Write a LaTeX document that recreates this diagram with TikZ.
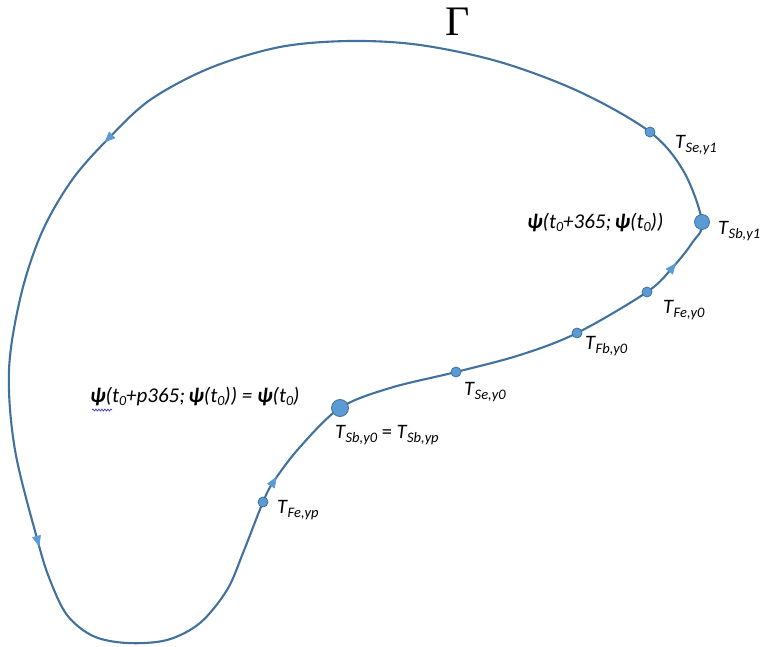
\documentclass[tikz,border=0pt]{standalone}
\usepackage{fontspec}
\setmainfont{Carlito}
\newfontfamily\gammafont{Liberation Serif}
\usetikzlibrary{arrows.meta,decorations.pathmorphing,calc}
\definecolor{curveblue}{HTML}{41719C}
\definecolor{dotblue}{HTML}{5B9BD5}
\definecolor{squiggle}{HTML}{3A3AD8}
\newcommand\Tlab[1]{\textit{T\kern0.5pt\raisebox{-3.5pt}{\fontsize{14.5}{14.5}\selectfont #1}}}
\newcommand\zsub{\raisebox{-3pt}{\fontsize{14}{14}\selectfont\itshape 0}}
\newcommand\bpsi{\textbf{\textit{ψ}}}
\begin{document}
\begin{tikzpicture}[x=1pt,y=-1pt,
  curve/.style={draw=curveblue,line width=2.1pt},
  dotsm/.style={circle,fill=dotblue,draw=curveblue,line width=0.8pt,inner sep=0pt,minimum size=10pt},
  dotbig/.style={dotsm,minimum size=17pt},
  lab/.style={font=\fontsize{20.5}{24}\selectfont,inner sep=0pt,anchor=west},
  tip/.style={-{Triangle[length=11pt,width=9pt]},draw=dotblue,fill=dotblue,line width=0.6pt}]
\useasboundingbox (0,0) rectangle (763,647);
% points on the curve
\coordinate (sby0) at (340,408);
\coordinate (sey0) at (456,372);
\coordinate (fby0) at (577,333);
\coordinate (fey0) at (647,292);
\coordinate (a1) at (673,267);
\coordinate (sby1) at (702,222);
\coordinate (sey1) at (650,132);
\coordinate (a3) at (108,139);
\coordinate (a4) at (38,542);
\coordinate (feyp) at (263,502);
\coordinate (a2) at (274,481);
% closed curve
\draw[curve] plot[smooth cycle,tension=0.55] coordinates {
 (sby0) (390,388) (sey0) (520,355) (fby0) (fey0) (a1) (692,243) (sby1) (684,172) (sey1)
 (580,92) (500,62) (420,45) (350,41) (280,47) (210,68) (150,100) (a3) (72,180)
 (42,232) (21,295) (9,370) (15,450) (a4) (50,580) (67,615) (93,636) (127,643) (167,640)
 (200,623) (227,590) (243,553) (feyp) (a2) (300,447)};
% direction arrows
\draw[tip] ($(a1)+(-3.1,3.9)$) -- ($(a1)+(3.1,-3.9)$);
\draw[tip] ($(a2)+(-2.6,4.3)$) -- ($(a2)+(2.6,-4.3)$);
\draw[tip] ($(a3)+(3.6,-3.5)$) -- ($(a3)+(-3.6,3.5)$);
\draw[tip] ($(a4)+(-1.3,-4.8)$) -- ($(a4)+(1.3,4.8)$);
% dots
\node[dotbig] (Dsby0) at (sby0) {};
\node[dotbig,minimum size=15pt] (Dsby1) at (sby1) {};
\node[dotsm] (Dsey0) at (sey0) {};
\node[dotsm] (Dfby0) at (fby0) {};
\node[dotsm] (Dfey0) at (fey0) {};
\node[dotsm] (Dsey1) at (sey1) {};
\node[dotsm] (Dfeyp) at (feyp) {};
% labels
\node[lab] (Lsey1) at (675,145) {\Tlab{Se,y1}};
\node[lab] (Lsby1) at (718,231) {\Tlab{Sb,y1}};
\node[lab] (Lfey0) at (663,310) {\Tlab{Fe,y0}};
\node[lab] (Lfby0) at (585,346) {\Tlab{Fb,y0}};
\node[lab] (Lsey0) at (464,392) {\Tlab{Se,y0}};
\node[lab] (Lsby0) at (335,435) {\Tlab{Sb,y0} = \Tlab{Sb,yp}};
\node[lab] (Lfeyp) at (277,510) {\Tlab{Fe,yp}};
\node[lab,font=\fontsize{21}{24}\selectfont] (Lpsi1) at (527,222) {\itshape\bpsi(t\zsub+365;\,\bpsi(t\zsub))};
\node[lab,font=\fontsize{21}{24}\selectfont] (Lpsi2) at (90,397) {\itshape\bpsi(t\zsub+p365;\,\bpsi(t\zsub)) = \bpsi(t\zsub)};
\draw[squiggle,line width=0.7pt,decorate,decoration={snake,amplitude=1pt,segment length=3pt}] (92,410) -- (112,410);
\node[font=\gammafont\fontsize{42}{42}\selectfont,inner sep=0pt] (gamma) at (458,22) {Γ};
\end{tikzpicture}
\end{document}
